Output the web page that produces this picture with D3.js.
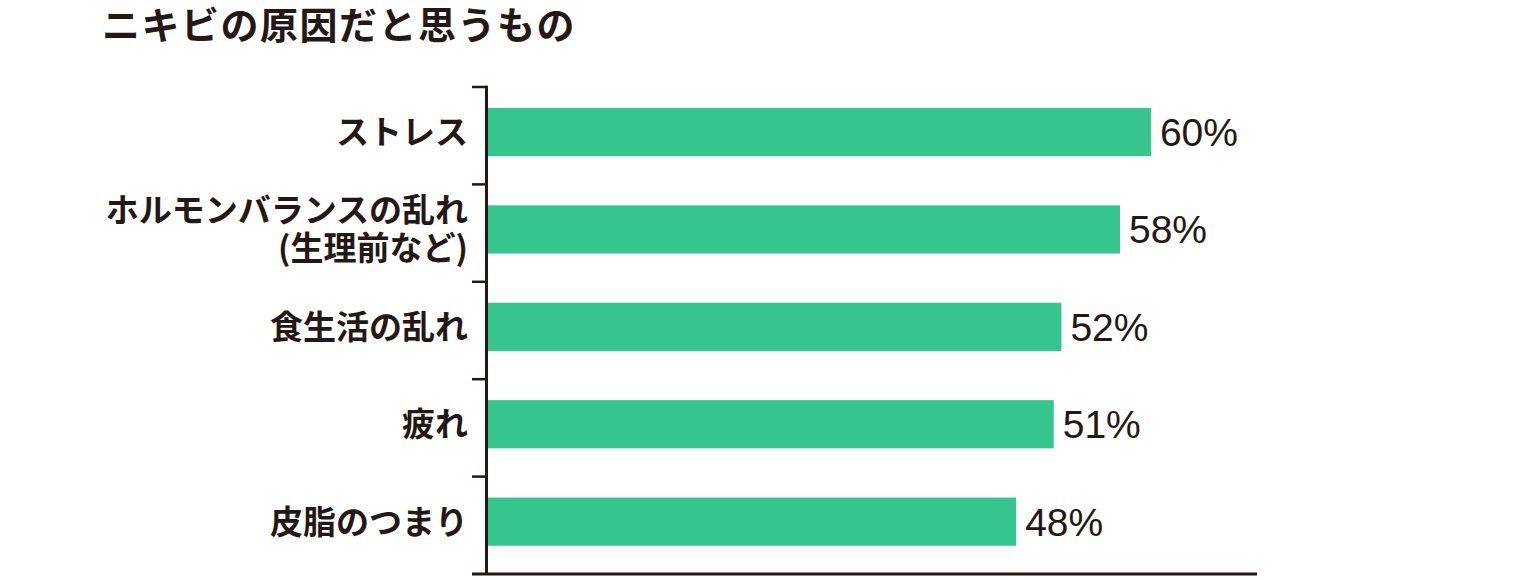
<!DOCTYPE html>
<html>
<head>
<meta charset="utf-8">
<script src="https://cdn.jsdelivr.net/npm/d3@7"></script>
<style>
    body { margin: 0; background: #fff; }
    svg { display: block; }
</style>
</head>
<body>
<svg id="chart"></svg>
<script>
const title = 'ニキビの原因だと思うもの';
const categories = ['ストレス', 'ホルモンバランスの乱れ\n(生理前など)', '食生活の乱れ', '疲れ', '皮脂のつまり'];
// bar lengths; the printed labels are rounded
const values = [60, 57.2, 51.9, 51.2, 47.8];
const valueLabels = ['60%', '58%', '52%', '51%', '48%'];

const ink = '#231815';
const barColor = '#36c48f';
const jpFont = '"Noto Sans CJK JP", sans-serif';

function drawChart() {
    const width = 1540;
    const height = 580;
    const svg = d3.select('#chart')
        .attr('width', width)
        .attr('height', height);

    svg.append('text')
        .attr('x', 102)
        .attr('y', 39)
        .attr('font-family', jpFont)
        .attr('font-weight', 700)
        .attr('font-size', 38)
        .attr('letter-spacing', 1.5)
        .attr('fill', ink)
        .text(title);

    // one band per category, ticks sit on the band edges
    const yScale = d3.scaleBand()
        .domain(categories)
        .range([87, 574]);
    const xScale = d3.scaleLinear()
        .domain([0, 69.6])
        .range([488, 1257]);

    const band = yScale.bandwidth();
    const barTop = d => yScale(d) + band * 0.215;
    const barH = band * 0.495;
    const mid = d => barTop(d) + barH / 2;

    const rows = categories.map((c, i) => ({ cat: c, value: values[i], label: valueLabels[i] }));

    svg.append('g')
        .selectAll('rect')
        .data(rows)
        .enter()
        .append('rect')
        .attr('x', xScale(0))
        .attr('y', d => barTop(d.cat))
        .attr('width', d => xScale(d.value) - xScale(0))
        .attr('height', barH)
        .attr('fill', barColor);

    svg.append('g')
        .selectAll('text')
        .data(rows)
        .enter()
        .append('text')
        .attr('x', d => xScale(d.value) + 9)
        .attr('y', d => mid(d.cat))
        .attr('dy', '0.36em')
        .attr('font-family', '"Liberation Sans", Arial, sans-serif')
        .attr('font-size', 39)
        .attr('fill', ink)
        .text(d => d.label);

    // category labels, right aligned, split on newline
    const labels = svg.append('g')
        .attr('font-family', jpFont)
        .attr('font-weight', 700)
        .attr('font-size', 33)
        .attr('text-anchor', 'end')
        .attr('fill', ink)
        .selectAll('text')
        .data(rows)
        .enter()
        .append('text')
        .attr('x', 468)
        .attr('y', d => mid(d.cat));
    labels.each(function(d) {
        const lines = d.cat.split('\n');
        const lh = 38;
        const start = -(lines.length - 1) * lh / 2;
        d3.select(this).selectAll('tspan')
            .data(lines)
            .enter()
            .append('tspan')
            .attr('x', 468)
            .attr('y', (l, i) => mid(d.cat) + start + i * lh)
            .attr('dy', '0.36em')
            .text(l => l);
    });

    // axes
    const ticks = categories.map(c => yScale(c)).concat([yScale.range()[1]]);
    const axis = svg.append('g')
        .attr('stroke', ink)
        .attr('fill', 'none');
    axis.selectAll('line.tick')
        .data(ticks.slice(0, -1))
        .enter()
        .append('line')
        .attr('class', 'tick')
        .attr('x1', 472)
        .attr('x2', 487)
        .attr('y1', d => d)
        .attr('y2', d => d)
        .attr('stroke-width', 2.5);
    axis.append('line')
        .attr('x1', 486.5)
        .attr('x2', 486.5)
        .attr('y1', ticks[0] - 1.25)
        .attr('y2', ticks[ticks.length - 1])
        .attr('stroke-width', 3);
    axis.append('line')
        .attr('x1', 472)
        .attr('x2', xScale.range()[1])
        .attr('y1', ticks[ticks.length - 1])
        .attr('y2', ticks[ticks.length - 1])
        .attr('stroke-width', 3);
}

drawChart();
</script>
</body>
</html>
